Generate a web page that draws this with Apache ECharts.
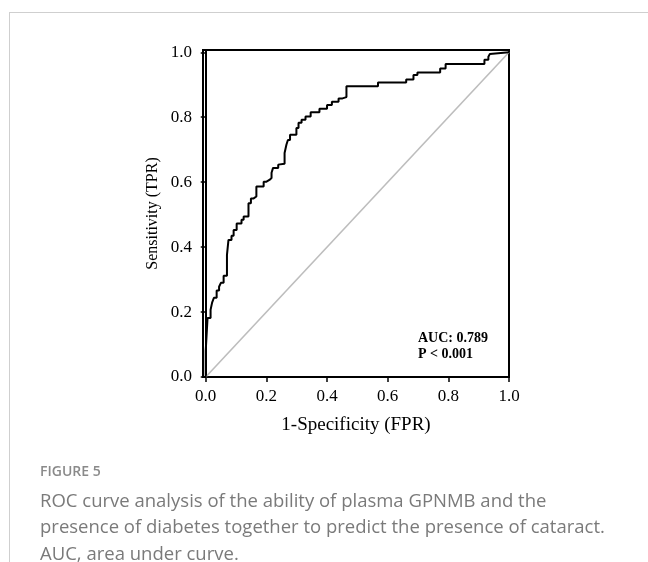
<!DOCTYPE html>
<html>
<head>
<meta charset="utf-8">
<script src="https://cdn.jsdelivr.net/npm/echarts@6/dist/echarts.min.js"></script>
<style>
  html, body { margin: 0; padding: 0; background: #fff; }
  #wrap { position: relative; width: 648px; height: 562px; overflow: hidden; }
  #frame { position: absolute; left: 9px; top: 12px; width: 700px; height: 600px;
           border-top: 1.5px solid #cfcfcf; border-left: 1.5px solid #cfcfcf; }
  #chart { position: absolute; left: 0; top: 0; width: 648px; height: 562px; }
</style>
</head>
<body>
<div id="wrap">
  <div id="frame"></div>
  <div id="chart"></div>
</div>
<script>
// ROC 曲线拐点 (FPR, TPR)
const fpr = [0.000, 0.006, 0.016, 0.021, 0.027, 0.036, 0.044, 0.050, 0.059, 0.070,
             0.075, 0.085, 0.092, 0.102, 0.118, 0.125, 0.141, 0.149, 0.158, 0.167,
             0.191, 0.199, 0.210, 0.217, 0.222, 0.239, 0.245, 0.260, 0.266, 0.271,
             0.278, 0.299, 0.306, 0.316, 0.329, 0.346, 0.375, 0.400, 0.416, 0.438,
             0.451, 0.464, 0.568, 0.661, 0.685, 0.698, 0.773, 0.791, 0.919, 0.932,
             0.937, 0.942, 1.000];
const tpr = [0.000, 0.081, 0.182, 0.207, 0.229, 0.244, 0.266, 0.278, 0.290, 0.312,
             0.376, 0.422, 0.435, 0.453, 0.473, 0.484, 0.494, 0.535, 0.550, 0.556,
             0.587, 0.601, 0.607, 0.613, 0.629, 0.644, 0.654, 0.657, 0.690, 0.715,
             0.730, 0.746, 0.767, 0.783, 0.792, 0.802, 0.815, 0.826, 0.838, 0.848,
             0.858, 0.862, 0.895, 0.907, 0.916, 0.930, 0.938, 0.950, 0.964, 0.977,
             0.986, 0.995, 1.000];

// 参考线 (随机分类)
const refX = [0, 1];
const refY = [0, 1];

// 刻度
const tickValues = [0, 0.2, 0.4, 0.6, 0.8, 1.0];

const aucText = 'AUC: 0.789';
const pText = 'P < 0.001';
const figLabel = 'FIGURE 5';
const captionLines = [
    'ROC curve analysis of the ability of plasma GPNMB and the',
    'presence of diabetes together to predict the presence of cataract.',
    'AUC, area under curve.'
];

const serif = '"Liberation Serif", "Times New Roman", serif';

let chart = null;
function initChart() {
    chart = echarts.init(document.getElementById('chart'), null, { renderer: 'canvas' });

    const rocData = fpr.map((x, i) => [x, tpr[i]]);
    const refData = refX.map((x, i) => [x, refY[i]]);

    const axisCommon = {
        type: 'value',
        axisLine: { show: true, lineStyle: { color: '#000', width: 2 } },
        axisTick: { show: true, inside: false, length: 5, customValues: tickValues,
                    lineStyle: { color: '#000', width: 1.5 } },
        axisLabel: { show: true, customValues: tickValues, color: '#000',
                     fontFamily: serif, fontSize: 17, margin: 11,
                     formatter: v => v.toFixed(1) },
        splitLine: { show: false }
    };

    const option = {
        animation: false,
        grid: { left: 203, right: 139, top: 50, bottom: 185,
                show: true, borderColor: '#000', borderWidth: 2 },
        xAxis: Object.assign({}, axisCommon, {
            min: -0.009, max: 1.0,
            name: '1-Specificity (FPR)', nameLocation: 'middle', nameGap: 39,
            nameTextStyle: { fontFamily: serif, fontSize: 19, color: '#000' }
        }),
        yAxis: Object.assign({}, axisCommon, {
            min: 0, max: 1.007,
            name: 'Sensitivity (TPR)', nameLocation: 'middle', nameGap: 42,
            nameTextStyle: { fontFamily: serif, fontSize: 16, color: '#000' }
        }),
        series: [
            {
                name: 'ref', type: 'line', data: refData, showSymbol: false,
                lineStyle: { color: '#bdbdbd', width: 1.6 }, z: 1, silent: true
            },
            {
                name: 'ROC', type: 'line', data: rocData, step: 'start', showSymbol: false,
                lineStyle: { color: '#000', width: 2 }, z: 2, silent: true
            }
        ],
        graphic: [
            {
                type: 'text', left: 418, top: 330, z: 10,
                style: { text: aucText + '\n' + pText, fontFamily: serif, fontSize: 14,
                         fontWeight: 'bold', fill: '#000', lineHeight: 16 }
            },
            {
                type: 'text', left: 40, top: 465,
                style: { text: figLabel, fontFamily: '"Open Sans", sans-serif', fontSize: 14,
                         fontWeight: 600, fill: '#8a8a8a' }
            },
            {
                type: 'text', left: 40, top: 488,
                style: { text: captionLines.join('\n'), fontFamily: '"Open Sans", sans-serif',
                         fontSize: 18.5, fill: '#7a7a7a', lineHeight: 26.5 }
            }
        ]
    };

    chart.setOption(option);
}

document.addEventListener('DOMContentLoaded', function () {
    initChart();
});
</script>
</body>
</html>
